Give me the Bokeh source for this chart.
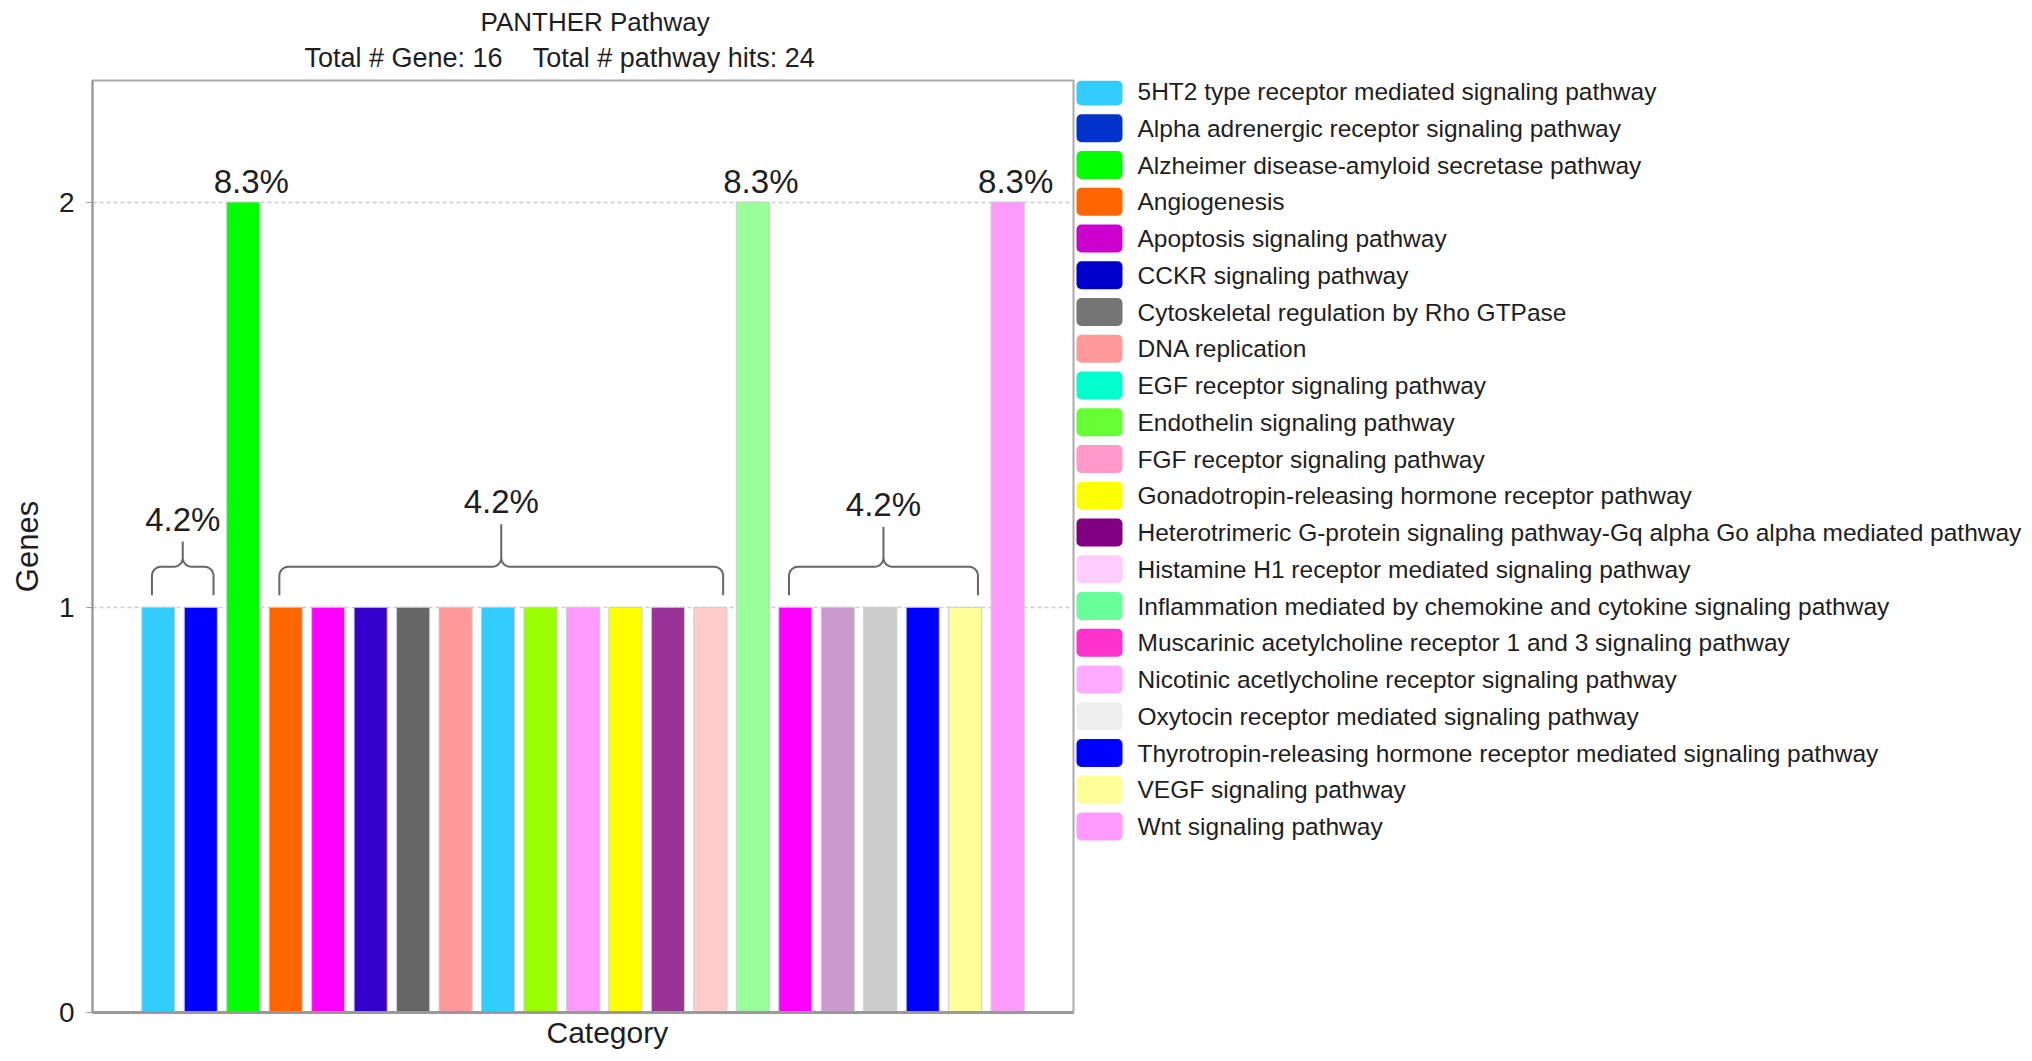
import numpy as np
from bokeh.plotting import figure
from bokeh.models import Range1d, FixedTicker, ColumnDataSource, Title
from bokeh.layouts import row
from bokeh.embed import file_html
from bokeh.resources import INLINE
from bokeh.core.properties import value

# ---------------- data ----------------
categories = [
    "5HT2 type receptor mediated signaling pathway",
    "Alpha adrenergic receptor signaling pathway",
    "Alzheimer disease-amyloid secretase pathway",
    "Angiogenesis",
    "Apoptosis signaling pathway",
    "CCKR signaling pathway",
    "Cytoskeletal regulation by Rho GTPase",
    "DNA replication",
    "EGF receptor signaling pathway",
    "Endothelin signaling pathway",
    "FGF receptor signaling pathway",
    "Gonadotropin-releasing hormone receptor pathway",
    "Heterotrimeric G-protein signaling pathway-Gq alpha Go alpha mediated pathway",
    "Histamine H1 receptor mediated signaling pathway",
    "Inflammation mediated by chemokine and cytokine signaling pathway",
    "Muscarinic acetylcholine receptor 1 and 3 signaling pathway",
    "Nicotinic acetlycholine receptor signaling pathway",
    "Oxytocin receptor mediated signaling pathway",
    "Thyrotropin-releasing hormone receptor mediated signaling pathway",
    "VEGF signaling pathway",
    "Wnt signaling pathway",
]
genes = [1, 1, 2, 1, 1, 1, 1, 1, 1, 1, 1, 1, 1, 1, 2, 1, 1, 1, 1, 1, 2]
bar_colors = [
    "#33CCFF", "#0000FF", "#00FF00", "#FF6600", "#FF00FF", "#3300CC", "#666666",
    "#FF9999", "#33CCFF", "#99FF00", "#FF99FF", "#FFFF00", "#993399", "#FFCCCC",
    "#99FF99", "#FF00FF", "#CC99CC", "#CCCCCC", "#0000FF", "#FFFF99", "#FF99FF",
]
legend_colors = [
    "#33CCFF", "#0033CC", "#00FF00", "#FF6600", "#CC00CC", "#0000CC", "#757575",
    "#FF9999", "#00FFCC", "#66FF33", "#FF99CC", "#FFFF00", "#800080", "#FFCCFF",
    "#66FF99", "#FF33CC", "#FFAAFF", "#EEEEEE", "#0000FF", "#FFFF99", "#FF99FF",
]
total_genes = 16
total_hits = 24
# groups of neighbouring 1-gene bars that share one bracketed percentage label
groups = [(0, 1), (3, 13), (15, 19)]

title_main = "PANTHER Pathway"
title_sub = f"Total # Gene: {total_genes}\u00a0\u00a0\u00a0\u00a0Total # pathway hits: {total_hits}"
x_title = "Category"
y_title = "Genes"

FONT = "Liberation Sans"
TXT = "#1e1e1e"

# ---------------- main chart ----------------
BL, BR, BT, BB = 92, 2, 80, 49
FW, FH = 981, 932
idx = list(range(len(categories)))
src = ColumnDataSource(dict(x=idx, top=genes, color=bar_colors, name=categories))

p = figure(width=BL + FW + BR, height=BT + FH + BB,
           x_range=Range1d(-1.55, 21.55), y_range=Range1d(0, 2.3),
           output_backend="svg", toolbar_location=None,
           min_border_left=BL, min_border_right=BR,
           min_border_top=BT, min_border_bottom=BB)
p.background_fill_color = "white"
p.border_fill_color = "white"
p.outline_line_color = "#aaaaaa"
p.outline_line_width = 2

p.xgrid.visible = False
p.ygrid.ticker = FixedTicker(ticks=[1, 2])
p.ygrid.grid_line_color = "#cccccc"
p.ygrid.grid_line_dash = "4 3"
p.ygrid.grid_line_width = 1.5

p.yaxis.ticker = FixedTicker(ticks=[0, 1, 2])
p.yaxis.axis_line_color = "#999999"
p.yaxis.axis_line_width = 2
p.yaxis.major_tick_line_color = "#999999"
p.yaxis.major_tick_out = 6
p.yaxis.major_tick_in = 0
p.yaxis.minor_tick_line_color = None
p.yaxis.major_label_text_font = FONT
p.yaxis.major_label_text_font_size = "28px"
p.yaxis.major_label_text_color = TXT
p.yaxis.major_label_standoff = 12
p.yaxis.axis_label = y_title
p.yaxis.axis_label_text_font = FONT
p.yaxis.axis_label_text_font_size = "31px"
p.yaxis.axis_label_text_font_style = "normal"
p.yaxis.axis_label_text_color = TXT
p.yaxis.axis_label_standoff = 11

p.xaxis.ticker = FixedTicker(ticks=[])
p.xaxis.axis_line_color = "#999999"
p.xaxis.axis_line_width = 3
p.xaxis.major_tick_line_color = None
p.xaxis.minor_tick_line_color = None

p.vbar(x="x", top="top", width=0.78, bottom=0, source=src,
       fill_color="color", line_color="#cccccc", line_width=1)

# percentage labels on 2-gene bars
two = [i for i, g in enumerate(genes) if g == 2]
p.text(x=two, y=[genes[i] + 0.05 for i in two],
       text=[f"{genes[i] / total_hits * 100:.1f}%" for i in two],
       text_align="center", text_baseline="alphabetic", x_offset=8,
       text_font=value(FONT), text_font_size="33px", text_color=TXT)

# braces with percentage labels for 1-gene groups
px_x = FW / 23.1
px_y = FH / 2.3
rx, ry = 9 / px_x, 9 / px_y
th = np.linspace(0, np.pi / 2, 8)
yb, yh = 1.03, 1.10
bx, by, lx, ly, lt = [], [], [], [], []
for a, b in groups:
    x0, x1 = a - 0.15, b + 0.3
    xm = (x0 + x1) / 2
    w = x1 - x0
    yp = yh + 0.045 + 0.06 * min(1.0, w / 5)
    xs, ys = [x0], [yb]
    xs += list(x0 + rx - rx * np.cos(th)); ys += list(yh - ry + ry * np.sin(th))
    xs += list(xm - rx + rx * np.sin(th)); ys += list(yh + ry - ry * np.cos(th))
    xs.append(xm); ys.append(yp)
    xs += list(xm + rx - rx * np.sin(th[::-1])); ys += list(yh + ry - ry * np.cos(th[::-1]))
    xs += list(x1 - rx + rx * np.cos(th[::-1])); ys += list(yh - ry + ry * np.sin(th[::-1]))
    xs.append(x1); ys.append(yb)
    bx.append(xs); by.append(ys)
    lx.append(xm); ly.append(yp + 0.055)
    lt.append(f"{genes[a] / total_hits * 100:.1f}%")
p.multi_line(xs=bx, ys=by, line_color="#666666", line_width=2)
p.text(x=lx, y=ly, text=lt, text_align="center", text_baseline="alphabetic",
       text_font=value(FONT), text_font_size="33px", text_color=TXT)

# titles
p.add_layout(Title(text=title_sub, align="left", offset=212, vertical_align="top",
                   text_font=FONT, text_font_size="27px",
                   text_font_style="normal", text_color=TXT, standoff=12), "above")
p.add_layout(Title(text=title_main, align="left", offset=388,
                   text_font=FONT, text_font_size="26px",
                   text_font_style="normal", text_color=TXT, standoff=0), "above")
p.add_layout(Title(text=x_title, align="left", offset=454,
                   text_font=FONT, text_font_size="30px",
                   text_font_style="normal", text_color=TXT, standoff=2), "below")

# ---------------- legend panel ----------------
LW = 2032 - (BL + FW + BR)
pitch = 36.75
first = 11
lg = figure(width=LW, height=BT + FH + BB, x_range=Range1d(0, LW),
            y_range=Range1d((FH - first) / pitch, -first / pitch),
            output_backend="svg", toolbar_location=None,
            min_border_left=0, min_border_right=0, min_border_top=BT, min_border_bottom=BB)
lg.axis.visible = False
lg.grid.visible = False
lg.outline_line_color = None
lg.border_fill_color = "white"
lsrc = ColumnDataSource(dict(y=idx, color=legend_colors, name=categories,
                             top=[i - 0.38 for i in idx], bottom=[i + 0.38 for i in idx]))
lg.vbar(x=24, width=46, top="top", bottom="bottom", source=lsrc,
        fill_color="color", line_color=None, border_radius=5)
lg.text(x=62, y="y", text="name", source=lsrc, text_baseline="middle",
        text_font=value(FONT), text_font_size="24.5px", text_color=TXT)

layout = row(p, lg)
open("out.html", "w").write(file_html(layout, INLINE))
